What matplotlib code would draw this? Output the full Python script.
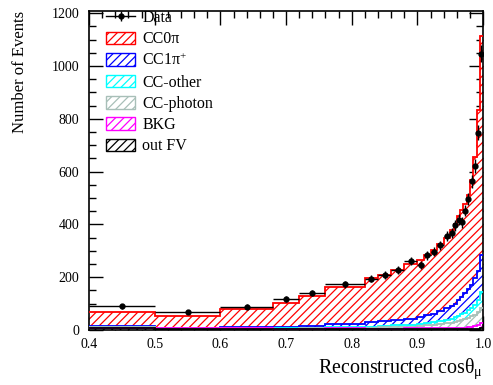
import numpy as np
import matplotlib
matplotlib.use("Agg")
import matplotlib.pyplot as plt
from matplotlib.patches import Patch
from matplotlib.lines import Line2D
from matplotlib.ticker import MultipleLocator

plt.rcParams["font.family"] = ["Liberation Serif", "DejaVu Serif"]
plt.rcParams["mathtext.fontset"] = "custom"
plt.rcParams["mathtext.rm"] = "Liberation Serif"
plt.rcParams["mathtext.it"] = "Liberation Serif:italic"
plt.rcParams["mathtext.default"] = "regular"
plt.rcParams["hatch.linewidth"] = 0.9

# bin edges in reconstructed cos(theta_mu)
edges = [0.4, 0.5, 0.6, 0.68, 0.72, 0.76, 0.82, 0.84, 0.86, 0.88, 0.9,
         0.91, 0.92, 0.93, 0.94, 0.95, 0.955, 0.96, 0.965, 0.97, 0.975,
         0.98, 0.985, 0.99, 0.995, 1.0]

data = [90, 67, 88, 117, 141, 173, 194, 208, 229, 262, 245, 283, 296, 320,
        357, 368, 396, 418, 408, 452, 497, 563, 621, 748, 1047]

# stacked MC components (bottom to top)
outfv = [8, 5, 5, 3, 3, 4, 3, 3, 3, 3, 3, 3, 3, 3, 3, 3, 3, 3, 3, 3, 4, 4, 4, 5, 6]
bkg = [1, 1, 1, 1, 2, 2, 2, 2, 2, 3, 3, 3, 4, 4, 4, 4, 5, 5, 6, 6, 7, 8, 10, 13, 22]
ccphoton = [1, 1, 1, 1, 2, 3, 4, 5, 6, 7, 9, 11, 13, 15, 18, 20, 22, 25, 28, 31,
            35, 39, 43, 49, 55]
ccother = [1, 1, 1, 2, 2, 3, 4, 5, 6, 7, 8, 9, 10, 12, 14, 16, 18, 20, 23, 26,
           29, 33, 38, 45, 60]
cc1pi = [3, 1, 2, 6, 7, 10, 16, 18, 21, 22, 25, 29, 32, 36, 43, 49, 52, 59, 64,
         74, 80, 88, 100, 113, 142]
cc0pi = [55, 44, 69, 90, 112, 139, 166, 175, 189, 208, 218, 230, 242, 256, 267,
         285, 302, 318, 331, 338, 355, 398, 459, 609, 828]

names = ["out FV", "BKG", "CC-photon", "CC-other", "CC1$\\pi^{+}$", "CC0\u03c0"]
colors = ["black", "#ff00ff", "#a8bfb8", "#00ffff", "#0000ff", "#ff0000"]
comps = [outfv, bkg, ccphoton, ccother, cc1pi, cc0pi]

edges_a = np.array(edges)
centers = 0.5 * (edges_a[1:] + edges_a[:-1])
halfw = 0.5 * (edges_a[1:] - edges_a[:-1])

fig = plt.figure(figsize=(4.93, 3.85), dpi=100)
ax = fig.add_axes([0.1805, 0.143, 0.7995, 0.828])

lower = np.zeros(len(data))
tops = []
for vals, c in zip(comps, colors):
    upper = lower + np.array(vals)
    ax.stairs(upper, edges, baseline=lower, fill=True, facecolor="white",
              edgecolor=c, hatch="////", linewidth=0, zorder=2)
    tops.append(upper)
    lower = upper

for upper, c in reversed(list(zip(tops, colors))):
    ax.stairs(upper, edges, baseline=None, color=c, linewidth=1.3, zorder=3)

ax.errorbar(centers, data, xerr=halfw, yerr=np.sqrt(data), fmt="o",
            color="black", ms=3.5, elinewidth=1, capsize=0, zorder=5)

ax.set_xlim(0.4, 1.0)
ax.set_ylim(0, 1208)
ax.xaxis.set_major_locator(MultipleLocator(0.1))
ax.xaxis.set_minor_locator(MultipleLocator(0.02))
ax.yaxis.set_major_locator(MultipleLocator(200))
ax.yaxis.set_minor_locator(MultipleLocator(50))
ax.tick_params(which="both", direction="in", top=True, right=True, labelsize=10)
ax.tick_params(which="major", length=10, width=1)
ax.tick_params(which="minor", length=5, width=1)
ax.tick_params(axis="x", pad=6)
ax.tick_params(axis="y", pad=7)
for s in ax.spines.values():
    s.set_linewidth(1.2)

ax.set_xlabel("Reconstructed cos$\\theta_{\\mu}$", fontsize=14.4, loc="right")
ax.set_ylabel("Number of Events", fontsize=12, loc="top")
ax.yaxis.set_label_coords(-0.155, 1.0)

data_handle = (Line2D([], [], color="black", lw=1, marker="o", ms=3.5),
               Line2D([], [], color="black", ls="none", marker="|", ms=7, mew=1))
handles = [data_handle]
labels = ["Data"]
for n, c in reversed(list(zip(names, colors))):
    handles.append(Patch(facecolor="white", edgecolor=c, hatch="////", linewidth=1))
    labels.append(n)
ax.legend(handles, labels, loc="upper left", frameon=False, fontsize=11.5,
          handlelength=1.8, handleheight=0.85, labelspacing=0.33,
          borderaxespad=0.0, borderpad=0.1, handletextpad=0.45,
          bbox_to_anchor=(0.04, 1.008))

fig.savefig("out.png", dpi=100)
